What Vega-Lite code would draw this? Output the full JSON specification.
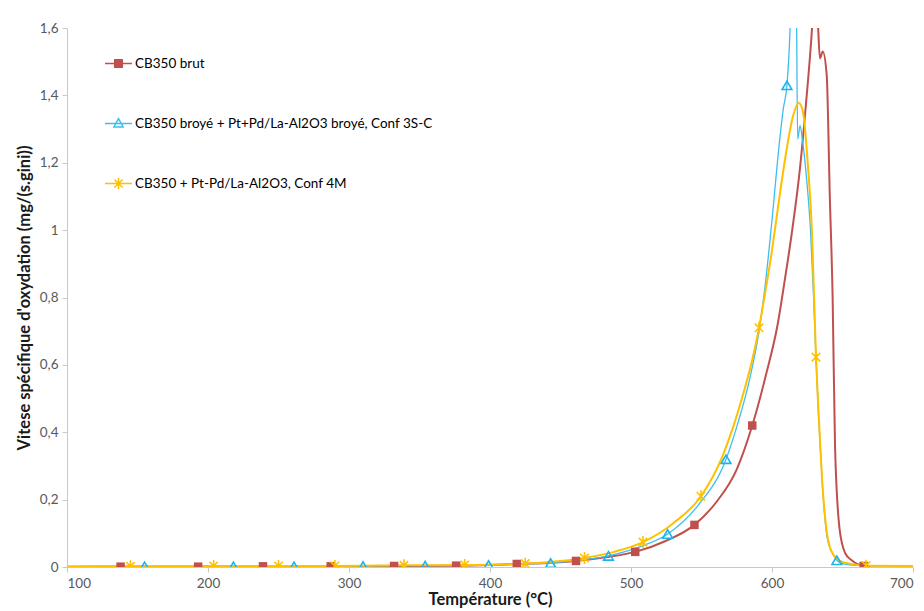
{
  "$schema": "https://vega.github.io/schema/vega-lite/v6.json",
  "width": 846,
  "height": 539,
  "autosize": {"type": "none"},
  "padding": {"left": 67, "top": 28, "right": 11, "bottom": 44},
  "background": "white",
  "config": {
    "view": {"stroke": null},
    "font": "Lato",
    "axis": {
      "grid": false,
      "domainColor": "#C8C8C8",
      "tickColor": "#C8C8C8",
      "tickSize": 5,
      "labelColor": "#595959",
      "labelFontSize": 13.5,
      "labelFont": "Lato",
      "titleFont": "Lato",
      "titleFontSize": 16.5,
      "titleFontWeight": "bold",
      "titleColor": "#1a1a1a"
    }
  },
  "datasets": {
    "curves": [
      {"s": "CB350 brut", "T": 100, "v": 0},
      {"s": "CB350 brut", "T": 120, "v": 0.001},
      {"s": "CB350 brut", "T": 138, "v": 0.001},
      {"s": "CB350 brut", "T": 193, "v": 0.001},
      {"s": "CB350 brut", "T": 239, "v": 0.002},
      {"s": "CB350 brut", "T": 287, "v": 0.002},
      {"s": "CB350 brut", "T": 332, "v": 0.003},
      {"s": "CB350 brut", "T": 376, "v": 0.004},
      {"s": "CB350 brut", "T": 419, "v": 0.009},
      {"s": "CB350 brut", "T": 440, "v": 0.012},
      {"s": "CB350 brut", "T": 461, "v": 0.018},
      {"s": "CB350 brut", "T": 482, "v": 0.029},
      {"s": "CB350 brut", "T": 503, "v": 0.045},
      {"s": "CB350 brut", "T": 525, "v": 0.078},
      {"s": "CB350 brut", "T": 545, "v": 0.125},
      {"s": "CB350 brut", "T": 560, "v": 0.19},
      {"s": "CB350 brut", "T": 575, "v": 0.29},
      {"s": "CB350 brut", "T": 586, "v": 0.42},
      {"s": "CB350 brut", "T": 596, "v": 0.575},
      {"s": "CB350 brut", "T": 604, "v": 0.72},
      {"s": "CB350 brut", "T": 609, "v": 0.85},
      {"s": "CB350 brut", "T": 614, "v": 0.99},
      {"s": "CB350 brut", "T": 620, "v": 1.19},
      {"s": "CB350 brut", "T": 624, "v": 1.37},
      {"s": "CB350 brut", "T": 628.4, "v": 1.6},
      {"s": "CB350 brut", "T": 630.5, "v": 1.75},
      {"s": "CB350 brut", "T": 632.5, "v": 1.62},
      {"s": "CB350 brut", "T": 634, "v": 1.51},
      {"s": "CB350 brut", "T": 636, "v": 1.53},
      {"s": "CB350 brut", "T": 638.8, "v": 1.46},
      {"s": "CB350 brut", "T": 641, "v": 1.1},
      {"s": "CB350 brut", "T": 643, "v": 0.8},
      {"s": "CB350 brut", "T": 644.7, "v": 0.36},
      {"s": "CB350 brut", "T": 648, "v": 0.11},
      {"s": "CB350 brut", "T": 652, "v": 0.04},
      {"s": "CB350 brut", "T": 656.5, "v": 0.02},
      {"s": "CB350 brut", "T": 665, "v": 0.003},
      {"s": "CB350 brut", "T": 670, "v": 0.002},

      {"s": "CB350 broyé + Pt+Pd/La-Al2O3 broyé, Conf 3S-C", "T": 100, "v": 0.001},
      {"s": "CB350 broyé + Pt+Pd/La-Al2O3 broyé, Conf 3S-C", "T": 155, "v": 0.002},
      {"s": "CB350 broyé + Pt+Pd/La-Al2O3 broyé, Conf 3S-C", "T": 218, "v": 0.002},
      {"s": "CB350 broyé + Pt+Pd/La-Al2O3 broyé, Conf 3S-C", "T": 261, "v": 0.002},
      {"s": "CB350 broyé + Pt+Pd/La-Al2O3 broyé, Conf 3S-C", "T": 310, "v": 0.003},
      {"s": "CB350 broyé + Pt+Pd/La-Al2O3 broyé, Conf 3S-C", "T": 354, "v": 0.004},
      {"s": "CB350 broyé + Pt+Pd/La-Al2O3 broyé, Conf 3S-C", "T": 399, "v": 0.006},
      {"s": "CB350 broyé + Pt+Pd/La-Al2O3 broyé, Conf 3S-C", "T": 443, "v": 0.012},
      {"s": "CB350 broyé + Pt+Pd/La-Al2O3 broyé, Conf 3S-C", "T": 463, "v": 0.02},
      {"s": "CB350 broyé + Pt+Pd/La-Al2O3 broyé, Conf 3S-C", "T": 484, "v": 0.033},
      {"s": "CB350 broyé + Pt+Pd/La-Al2O3 broyé, Conf 3S-C", "T": 505, "v": 0.058},
      {"s": "CB350 broyé + Pt+Pd/La-Al2O3 broyé, Conf 3S-C", "T": 526, "v": 0.098},
      {"s": "CB350 broyé + Pt+Pd/La-Al2O3 broyé, Conf 3S-C", "T": 547, "v": 0.18},
      {"s": "CB350 broyé + Pt+Pd/La-Al2O3 broyé, Conf 3S-C", "T": 567.4, "v": 0.32},
      {"s": "CB350 broyé + Pt+Pd/La-Al2O3 broyé, Conf 3S-C", "T": 576, "v": 0.43},
      {"s": "CB350 broyé + Pt+Pd/La-Al2O3 broyé, Conf 3S-C", "T": 584, "v": 0.555},
      {"s": "CB350 broyé + Pt+Pd/La-Al2O3 broyé, Conf 3S-C", "T": 590, "v": 0.68},
      {"s": "CB350 broyé + Pt+Pd/La-Al2O3 broyé, Conf 3S-C", "T": 595, "v": 0.83},
      {"s": "CB350 broyé + Pt+Pd/La-Al2O3 broyé, Conf 3S-C", "T": 600, "v": 1.03},
      {"s": "CB350 broyé + Pt+Pd/La-Al2O3 broyé, Conf 3S-C", "T": 605, "v": 1.25},
      {"s": "CB350 broyé + Pt+Pd/La-Al2O3 broyé, Conf 3S-C", "T": 608, "v": 1.36},
      {"s": "CB350 broyé + Pt+Pd/La-Al2O3 broyé, Conf 3S-C", "T": 610.6, "v": 1.43},
      {"s": "CB350 broyé + Pt+Pd/La-Al2O3 broyé, Conf 3S-C", "T": 612.8, "v": 1.6},
      {"s": "CB350 broyé + Pt+Pd/La-Al2O3 broyé, Conf 3S-C", "T": 614.5, "v": 1.9},
      {"s": "CB350 broyé + Pt+Pd/La-Al2O3 broyé, Conf 3S-C", "T": 616, "v": 2.0},
      {"s": "CB350 broyé + Pt+Pd/La-Al2O3 broyé, Conf 3S-C", "T": 617.3, "v": 1.7},
      {"s": "CB350 broyé + Pt+Pd/La-Al2O3 broyé, Conf 3S-C", "T": 618.2, "v": 1.27},
      {"s": "CB350 broyé + Pt+Pd/La-Al2O3 broyé, Conf 3S-C", "T": 619.9, "v": 1.31},
      {"s": "CB350 broyé + Pt+Pd/La-Al2O3 broyé, Conf 3S-C", "T": 621.5, "v": 1.27},
      {"s": "CB350 broyé + Pt+Pd/La-Al2O3 broyé, Conf 3S-C", "T": 624.8, "v": 1.14},
      {"s": "CB350 broyé + Pt+Pd/La-Al2O3 broyé, Conf 3S-C", "T": 627.3, "v": 1.0},
      {"s": "CB350 broyé + Pt+Pd/La-Al2O3 broyé, Conf 3S-C", "T": 629.5, "v": 0.8},
      {"s": "CB350 broyé + Pt+Pd/La-Al2O3 broyé, Conf 3S-C", "T": 631.2, "v": 0.62},
      {"s": "CB350 broyé + Pt+Pd/La-Al2O3 broyé, Conf 3S-C", "T": 633, "v": 0.45},
      {"s": "CB350 broyé + Pt+Pd/La-Al2O3 broyé, Conf 3S-C", "T": 635.5, "v": 0.26},
      {"s": "CB350 broyé + Pt+Pd/La-Al2O3 broyé, Conf 3S-C", "T": 639, "v": 0.09},
      {"s": "CB350 broyé + Pt+Pd/La-Al2O3 broyé, Conf 3S-C", "T": 643, "v": 0.04},
      {"s": "CB350 broyé + Pt+Pd/La-Al2O3 broyé, Conf 3S-C", "T": 646, "v": 0.02},
      {"s": "CB350 broyé + Pt+Pd/La-Al2O3 broyé, Conf 3S-C", "T": 650, "v": 0.01},
      {"s": "CB350 broyé + Pt+Pd/La-Al2O3 broyé, Conf 3S-C", "T": 660, "v": 0.005},
      {"s": "CB350 broyé + Pt+Pd/La-Al2O3 broyé, Conf 3S-C", "T": 700, "v": 0.003},

      {"s": "CB350 + Pt-Pd/La-Al2O3, Conf 4M", "T": 100, "v": 0.002},
      {"s": "CB350 + Pt-Pd/La-Al2O3, Conf 4M", "T": 145, "v": 0.002},
      {"s": "CB350 + Pt-Pd/La-Al2O3, Conf 4M", "T": 204, "v": 0.003},
      {"s": "CB350 + Pt-Pd/La-Al2O3, Conf 4M", "T": 250, "v": 0.003},
      {"s": "CB350 + Pt-Pd/La-Al2O3, Conf 4M", "T": 290, "v": 0.003},
      {"s": "CB350 + Pt-Pd/La-Al2O3, Conf 4M", "T": 339, "v": 0.005},
      {"s": "CB350 + Pt-Pd/La-Al2O3, Conf 4M", "T": 382, "v": 0.006},
      {"s": "CB350 + Pt-Pd/La-Al2O3, Conf 4M", "T": 425, "v": 0.01},
      {"s": "CB350 + Pt-Pd/La-Al2O3, Conf 4M", "T": 446, "v": 0.016},
      {"s": "CB350 + Pt-Pd/La-Al2O3, Conf 4M", "T": 467, "v": 0.027},
      {"s": "CB350 + Pt-Pd/La-Al2O3, Conf 4M", "T": 488, "v": 0.045},
      {"s": "CB350 + Pt-Pd/La-Al2O3, Conf 4M", "T": 508.5, "v": 0.074},
      {"s": "CB350 + Pt-Pd/La-Al2O3, Conf 4M", "T": 530, "v": 0.13},
      {"s": "CB350 + Pt-Pd/La-Al2O3, Conf 4M", "T": 549.6, "v": 0.21},
      {"s": "CB350 + Pt-Pd/La-Al2O3, Conf 4M", "T": 565, "v": 0.33},
      {"s": "CB350 + Pt-Pd/La-Al2O3, Conf 4M", "T": 572, "v": 0.41},
      {"s": "CB350 + Pt-Pd/La-Al2O3, Conf 4M", "T": 580, "v": 0.52},
      {"s": "CB350 + Pt-Pd/La-Al2O3, Conf 4M", "T": 586, "v": 0.615},
      {"s": "CB350 + Pt-Pd/La-Al2O3, Conf 4M", "T": 590.8, "v": 0.71},
      {"s": "CB350 + Pt-Pd/La-Al2O3, Conf 4M", "T": 595, "v": 0.81},
      {"s": "CB350 + Pt-Pd/La-Al2O3, Conf 4M", "T": 600, "v": 0.94},
      {"s": "CB350 + Pt-Pd/La-Al2O3, Conf 4M", "T": 605, "v": 1.09},
      {"s": "CB350 + Pt-Pd/La-Al2O3, Conf 4M", "T": 610.4, "v": 1.24},
      {"s": "CB350 + Pt-Pd/La-Al2O3, Conf 4M", "T": 615, "v": 1.34},
      {"s": "CB350 + Pt-Pd/La-Al2O3, Conf 4M", "T": 619, "v": 1.377},
      {"s": "CB350 + Pt-Pd/La-Al2O3, Conf 4M", "T": 622, "v": 1.35},
      {"s": "CB350 + Pt-Pd/La-Al2O3, Conf 4M", "T": 625.5, "v": 1.19},
      {"s": "CB350 + Pt-Pd/La-Al2O3, Conf 4M", "T": 628.4, "v": 0.99},
      {"s": "CB350 + Pt-Pd/La-Al2O3, Conf 4M", "T": 631.2, "v": 0.623},
      {"s": "CB350 + Pt-Pd/La-Al2O3, Conf 4M", "T": 633, "v": 0.46},
      {"s": "CB350 + Pt-Pd/La-Al2O3, Conf 4M", "T": 635.5, "v": 0.26},
      {"s": "CB350 + Pt-Pd/La-Al2O3, Conf 4M", "T": 639, "v": 0.1},
      {"s": "CB350 + Pt-Pd/La-Al2O3, Conf 4M", "T": 643, "v": 0.04},
      {"s": "CB350 + Pt-Pd/La-Al2O3, Conf 4M", "T": 650, "v": 0.015},
      {"s": "CB350 + Pt-Pd/La-Al2O3, Conf 4M", "T": 655, "v": 0.01},
      {"s": "CB350 + Pt-Pd/La-Al2O3, Conf 4M", "T": 666.7, "v": 0.004},
      {"s": "CB350 + Pt-Pd/La-Al2O3, Conf 4M", "T": 700, "v": 0.003}
    ],
    "markers": [
      {"s": "CB350 brut", "T": 138, "v": 0.001},
      {"s": "CB350 brut", "T": 193, "v": 0.001},
      {"s": "CB350 brut", "T": 239, "v": 0.002},
      {"s": "CB350 brut", "T": 287, "v": 0.002},
      {"s": "CB350 brut", "T": 332, "v": 0.003},
      {"s": "CB350 brut", "T": 376, "v": 0.004},
      {"s": "CB350 brut", "T": 419, "v": 0.009},
      {"s": "CB350 brut", "T": 461, "v": 0.018},
      {"s": "CB350 brut", "T": 503, "v": 0.045},
      {"s": "CB350 brut", "T": 545, "v": 0.125},
      {"s": "CB350 brut", "T": 586, "v": 0.42},
      {"s": "CB350 brut", "T": 665, "v": 0.003},
      {"s": "CB350 broyé + Pt+Pd/La-Al2O3 broyé, Conf 3S-C", "T": 155, "v": 0.002},
      {"s": "CB350 broyé + Pt+Pd/La-Al2O3 broyé, Conf 3S-C", "T": 218, "v": 0.002},
      {"s": "CB350 broyé + Pt+Pd/La-Al2O3 broyé, Conf 3S-C", "T": 261, "v": 0.002},
      {"s": "CB350 broyé + Pt+Pd/La-Al2O3 broyé, Conf 3S-C", "T": 310, "v": 0.003},
      {"s": "CB350 broyé + Pt+Pd/La-Al2O3 broyé, Conf 3S-C", "T": 354, "v": 0.004},
      {"s": "CB350 broyé + Pt+Pd/La-Al2O3 broyé, Conf 3S-C", "T": 399, "v": 0.006},
      {"s": "CB350 broyé + Pt+Pd/La-Al2O3 broyé, Conf 3S-C", "T": 443, "v": 0.012},
      {"s": "CB350 broyé + Pt+Pd/La-Al2O3 broyé, Conf 3S-C", "T": 484, "v": 0.033},
      {"s": "CB350 broyé + Pt+Pd/La-Al2O3 broyé, Conf 3S-C", "T": 526, "v": 0.098},
      {"s": "CB350 broyé + Pt+Pd/La-Al2O3 broyé, Conf 3S-C", "T": 567.4, "v": 0.32},
      {"s": "CB350 broyé + Pt+Pd/La-Al2O3 broyé, Conf 3S-C", "T": 610.6, "v": 1.43},
      {"s": "CB350 broyé + Pt+Pd/La-Al2O3 broyé, Conf 3S-C", "T": 646, "v": 0.02},
      {"s": "CB350 + Pt-Pd/La-Al2O3, Conf 4M", "T": 145, "v": 0.002},
      {"s": "CB350 + Pt-Pd/La-Al2O3, Conf 4M", "T": 204, "v": 0.003},
      {"s": "CB350 + Pt-Pd/La-Al2O3, Conf 4M", "T": 250, "v": 0.003},
      {"s": "CB350 + Pt-Pd/La-Al2O3, Conf 4M", "T": 290, "v": 0.003},
      {"s": "CB350 + Pt-Pd/La-Al2O3, Conf 4M", "T": 339, "v": 0.005},
      {"s": "CB350 + Pt-Pd/La-Al2O3, Conf 4M", "T": 382, "v": 0.006},
      {"s": "CB350 + Pt-Pd/La-Al2O3, Conf 4M", "T": 425, "v": 0.01},
      {"s": "CB350 + Pt-Pd/La-Al2O3, Conf 4M", "T": 467, "v": 0.027},
      {"s": "CB350 + Pt-Pd/La-Al2O3, Conf 4M", "T": 508.5, "v": 0.074},
      {"s": "CB350 + Pt-Pd/La-Al2O3, Conf 4M", "T": 549.6, "v": 0.21},
      {"s": "CB350 + Pt-Pd/La-Al2O3, Conf 4M", "T": 590.8, "v": 0.71},
      {"s": "CB350 + Pt-Pd/La-Al2O3, Conf 4M", "T": 631.2, "v": 0.623},
      {"s": "CB350 + Pt-Pd/La-Al2O3, Conf 4M", "T": 666.7, "v": 0.004}
    ]
  },
  "encoding": {
    "x": {
      "field": "T",
      "type": "quantitative",
      "scale": {"domain": [100, 700], "nice": false},
      "axis": {
        "title": "Température (°C)",
        "values": [100, 200, 300, 400, 500, 600, 700],
        "labelPadding": 4,
        "titlePadding": 2
      }
    },
    "y": {
      "field": "v",
      "type": "quantitative",
      "scale": {"domain": [0, 1.6], "nice": false},
      "axis": {
        "title": "Vitese spécifique d'oxydation (mg/(s.gini))",
        "values": [0, 0.2, 0.4, 0.6, 0.8, 1, 1.2, 1.4, 1.6],
        "labelExpr": "replace(format(datum.value, '~f'), '.', ',')",
        "labelPadding": 4,
        "titlePadding": 7
      }
    }
  },
  "layer": [
    {
      "data": {"name": "curves"},
      "transform": [{"filter": "datum.s === 'CB350 brut'"}],
      "mark": {"type": "line", "interpolate": "monotone", "clip": true, "strokeWidth": 2},
      "encoding": {
        "color": {
          "field": "s",
          "type": "nominal",
          "scale": {
            "domain": ["CB350 brut", "CB350 broyé + Pt+Pd/La-Al2O3 broyé, Conf 3S-C", "CB350 + Pt-Pd/La-Al2O3, Conf 4M"],
            "range": ["#C0504D", "#3DBEF0", "#FFC000"]
          },
          "legend": {
            "orient": "none",
            "legendX": 37,
            "legendY": 21,
            "title": null,
            "padding": 0,
            "symbolType": "M-1,0L1,0",
            "symbolSize": 729,
            "symbolStrokeWidth": 1.5,
            "labelFont": "Lato",
            "labelFontSize": 13.5,
            "labelColor": "#000000",
            "labelOffset": 2,
            "labelLimit": 600,
            "rowPadding": 38,
            "encode": {
              "symbols": {
                "update": {
                  "shape": {"signal": "datum.value === 'CB350 brut' ? 'M-1,0L1,0M-0.28,-0.28L0.28,-0.28L0.28,0.28L-0.28,0.28Z' : (datum.value === 'CB350 + Pt-Pd/La-Al2O3, Conf 4M' ? 'M-1,0L1,0M-0.3,-0.3L0.3,0.3M-0.3,0.3L0.3,-0.3M0,-0.42L0,0.42' : 'M-1,0L1,0M0,-0.36L0.34,0.26L-0.34,0.26Z')"},
                  "fill": {"signal": "datum.value === 'CB350 brut' ? '#C0504D' : 'transparent'"}
                }
              }
            }
          }
        }
      }
    },
    {
      "data": {"name": "curves"},
      "transform": [{"filter": "datum.s === 'CB350 broyé + Pt+Pd/La-Al2O3 broyé, Conf 3S-C'"}],
      "mark": {"type": "line", "interpolate": "monotone", "clip": true, "strokeWidth": 1.3},
      "encoding": {
        "color": {
          "field": "s",
          "type": "nominal",
          "scale": {
            "domain": ["CB350 brut", "CB350 broyé + Pt+Pd/La-Al2O3 broyé, Conf 3S-C", "CB350 + Pt-Pd/La-Al2O3, Conf 4M"],
            "range": ["#C0504D", "#3DBEF0", "#FFC000"]
          }
        }
      }
    },
    {
      "data": {"name": "curves"},
      "transform": [{"filter": "datum.s === 'CB350 + Pt-Pd/La-Al2O3, Conf 4M'"}],
      "mark": {"type": "line", "interpolate": "monotone", "clip": true, "strokeWidth": 2},
      "encoding": {
        "color": {
          "field": "s",
          "type": "nominal",
          "scale": {
            "domain": ["CB350 brut", "CB350 broyé + Pt+Pd/La-Al2O3 broyé, Conf 3S-C", "CB350 + Pt-Pd/La-Al2O3, Conf 4M"],
            "range": ["#C0504D", "#3DBEF0", "#FFC000"]
          }
        }
      }
    },
    {
      "data": {"name": "markers"},
      "transform": [{"filter": "datum.s === 'CB350 brut'"}],
      "mark": {"type": "point", "shape": "square", "filled": true, "color": "#C0504D", "opacity": 1, "size": 72, "clip": true}
    },
    {
      "data": {"name": "markers"},
      "transform": [{"filter": "datum.s === 'CB350 broyé + Pt+Pd/La-Al2O3 broyé, Conf 3S-C'"}],
      "mark": {"type": "point", "shape": "triangle-up", "filled": false, "stroke": "#1FB3EE", "strokeWidth": 1.6, "opacity": 1, "size": 95, "clip": true}
    },
    {
      "data": {"name": "markers"},
      "transform": [{"filter": "datum.s === 'CB350 + Pt-Pd/La-Al2O3, Conf 4M'"}],
      "mark": {"type": "point", "shape": "M-0.7,-0.7L0.7,0.7M-0.7,0.7L0.7,-0.7M0,-1L0,1", "filled": false, "stroke": "#FFC000", "strokeWidth": 1.6, "opacity": 1, "size": 144, "clip": true}
    }
  ]
}
